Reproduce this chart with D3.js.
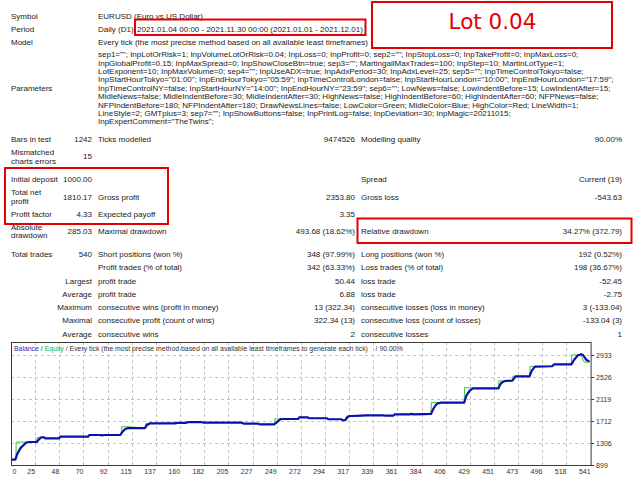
<!DOCTYPE html>
<html>
<head>
<meta charset="utf-8">
<script src="https://cdn.jsdelivr.net/npm/d3@7"></script>
<style>
    html, body { margin: 0; padding: 0; background: #fff; }
    svg { display: block; font-family: "Liberation Sans", Arial, sans-serif; }
    .caption { white-space: pre; }
</style>
</head>
<body>
<svg id="report" width="640" height="480"></svg>
<script>
// ---------- DATA ----------
const headerLabels = ["Symbol", "Period", "Model"];
const headerValues = [
    "EURUSD (Euro vs US Dollar)",
    "Daily (D1)",
    "Every tick (the most precise method based on all available least timeframes)"
];
const periodRange = "2021.01.04 00:00 - 2021.11.30 00:00 (2021.01.01 - 2021.12.01)";
const lotNote = "Lot 0.04";

const parameterLines = [
    'sep1=""; InpLotOrRisk=1; InpVolumeLotOrRisk=0.04; InpLoss=0; InpProfit=0; sep2=""; InpStopLoss=0; InpTakeProfit=0; InpMaxLoss=0;',
    'InpGlobalProfit=0.15; InpMaxSpread=0; InpShowCloseBtn=true; sep3=""; MartingailMaxTrades=100; InpStep=10; MartinLotType=1;',
    'LotExponent=10; InpMaxVolume=0; sep4=""; InpUseADX=true; InpAdxPeriod=30; InpAdxLevel=25; sep5=""; InpTimeControlTokyo=false;',
    'InpStartHourTokyo="01:00"; InpEndHourTokyo="05:59"; InpTimeControlLondon=false; InpStartHourLondon="10:00"; InpEndHourLondon="17:59";',
    'InpTimeControlNY=false; InpStartHourNY="14:00"; InpEndHourNY="23:59"; sep6=""; LowNews=false; LowIndentBefore=15; LowIndentAfter=15;',
    'MidleNews=false; MidleIndentBefore=30; MidleIndentAfter=30; HighNews=false; HighIndentBefore=60; HighIndentAfter=60; NFPNews=false;',
    'NFPIndentBefore=180; NFPIndentAfter=180; DrawNewsLines=false; LowColor=Green; MidleColor=Blue; HighColor=Red; LineWidth=1;',
    'LineStyle=2; GMTplus=3; sep7=""; InpShowButtons=false; InpPrintLog=false; InpDeviation=30; InpMagic=20211015;',
    'InpExpertComment="TheTwins";'
];

// summary rows: [label, value, label, value, label, value]
const summaryRows = [
    ["Bars in test", "1242", "Ticks modelled", "9474526", "Modelling quality", "90.00%"],
    ["Mismatched\ncharts errors", "15", "", "", "", ""],
    ["Initial deposit", "1000.00", "", "", "Spread", "Current (19)"],
    ["Total net\nprofit", "1810.17", "Gross profit", "2353.80", "Gross loss", "-543.63"],
    ["Profit factor", "4.33", "Expected payoff", "3.35", "", ""],
    ["Absolute\ndrawdown", "285.03", "Maximal drawdown", "493.68 (18.62%)", "Relative drawdown", "34.27% (372.79)"],
    ["Total trades", "540", "Short positions (won %)", "348 (97.99%)", "Long positions (won %)", "192 (0.52%)"],
    ["", "", "Profit trades (% of total)", "342 (63.33%)", "Loss trades (% of total)", "198 (36.67%)"],
    ["Largest", "", "profit trade", "50.44", "loss trade", "-52.45"],
    ["Average", "", "profit trade", "6.88", "loss trade", "-2.75"],
    ["Maximum", "", "consecutive wins (profit in money)", "13 (322.34)", "consecutive losses (loss in money)", "3 (-133.04)"],
    ["Maximal", "", "consecutive profit (count of wins)", "322.34 (13)", "consecutive loss (count of losses)", "-133.04 (3)"],
    ["Average", "", "consecutive wins", "2", "consecutive losses", "1"]
];

// balance curve: trade number / money
const balanceTrades = [0, 4, 6, 9, 14, 17, 24, 26, 28, 31, 32, 45, 46, 72, 73, 84, 85, 87, 102, 104, 106, 109, 125, 127, 130,
    153, 155, 163, 165, 178, 180, 215, 217, 230, 232, 246, 249, 252, 268, 269, 277, 278, 295, 296, 308, 310, 312, 315, 318,
    327, 331, 348, 349, 357, 358, 372, 374, 376, 385, 392, 394, 396, 398, 401, 423, 425, 428, 431, 455, 457, 459, 461,
    468, 471, 484, 486, 489, 505, 507, 523, 526, 529, 532, 534, 537, 540];
const balanceValues = [1000, 1000, 1110, 1215, 1310, 1324, 1324, 1370, 1408, 1408, 1393, 1393, 1422, 1422, 1454, 1454, 1446, 1454, 1454, 1510, 1555, 1582, 1582, 1640, 1670,
    1670, 1678, 1678, 1690, 1690, 1684, 1684, 1665, 1665, 1652, 1652, 1705, 1750, 1750, 1781, 1781, 1763, 1763, 1745, 1745, 1726, 1730, 1800, 1805,
    1811, 1815, 1815, 1811, 1811, 1836, 1836, 1845, 1836, 1840, 1842, 1930, 1995, 2035, 2051, 2051, 2180, 2270, 2317, 2317, 2400, 2435, 2452,
    2460, 2539, 2539, 2640, 2717, 2725, 2760, 2760, 2855, 2922, 2946, 2932, 2845, 2810];

// equity curve: trade number / money
const equityTrades = [0, 4.6, 4.8, 14, 17, 24, 24.4, 31, 32, 45, 46, 72, 73, 84, 85, 87, 103, 103.4, 109, 125, 126, 130,
    153, 155, 163, 165, 178, 180, 215, 217, 230, 232, 246, 246.4, 252, 268, 269, 277, 278, 295, 296, 308, 310, 312, 313, 318,
    327, 331, 348, 349, 357, 358, 372, 374, 376, 385, 392, 392.4, 401, 423, 423.4, 431, 455, 455.4, 461,
    468, 468.4, 471, 484, 484.6, 489, 505, 507, 523, 523.5, 530, 532, 535, 540];
const equityValues = [1000, 1000, 1322, 1322, 1324, 1324, 1408, 1408, 1393, 1393, 1422, 1422, 1454, 1454, 1446, 1454, 1454, 1607, 1607, 1582, 1670, 1670,
    1670, 1678, 1678, 1690, 1690, 1684, 1684, 1665, 1665, 1652, 1652, 1752, 1750, 1750, 1781, 1781, 1763, 1763, 1745, 1745, 1726, 1730, 1800, 1805,
    1811, 1815, 1815, 1811, 1811, 1836, 1836, 1845, 1836, 1840, 1842, 2053, 2051, 2051, 2335, 2317, 2317, 2455, 2452,
    2460, 2541, 2539, 2539, 2720, 2717, 2725, 2760, 2760, 2935, 2935, 2930, 2800, 2800];

const xTickLabels = ["0", "25", "48", "70", "92", "115", "137", "160", "182", "205", "227", "249", "272",
    "294", "317", "339", "361", "384", "406", "429", "451", "473", "496", "518", "541"];
const yTickValues = [899, 1306, 1712, 2119, 2526, 2933];
const chartTitle = ["Balance", " / ", "Equity", " / Every tick (the most precise method based on all available least timeframes to generate each tick)", "    / 90.00%"];

// ---------- REPORT TABLE ----------
const svg = d3.select("#report");
svg.append("rect").attr("width", 640).attr("height", 480).attr("fill", "#fff");

const textColor = "#1a1a1a";
const red = "#e30000";
const col = { label: 11, value: 92, label2: 98, value2: 355, label3: 361, value3: 622 };

function addText(x, y, str, anchor) {
    return svg.append("text")
        .attr("x", x)
        .attr("y", y)
        .attr("dy", "0.35em")
        .attr("text-anchor", anchor || "start")
        .attr("font-size", 8)
        .attr("fill", textColor)
        .text(str);
}

// label that may wrap on two lines
function addLabel(x, y, str, anchor) {
    const parts = str.split("\n");
    parts.forEach((p, i) => {
        addText(x, y + (i - (parts.length - 1) / 2) * 8.4, p, anchor);
    });
}

const headerY = [15.7, 29, 42.3];
headerLabels.forEach((l, i) => {
    addText(col.label, headerY[i], l);
    addText(col.label2, headerY[i], headerValues[i]);
});
addText(137, headerY[1], periodRange);

// parameters block
const paramTop = 54.3;
parameterLines.forEach((line, i) => addText(col.label2, paramTop + i * 8.42, line));
addText(col.label, paramTop + 4 * 8.42, "Parameters");

const rowY = [139, 156.5, 179.3, 196.8, 214, 231.2, 254.3, 267.5, 280.8, 294, 307.3, 320.6, 334];
const rightLabels = ["Largest", "Average", "Maximum", "Maximal"];
summaryRows.forEach((r, i) => {
    const y = rowY[i];
    const right = i > 7 && rightLabels.includes(r[0]);
    if (r[0]) addLabel(right ? col.value : col.label, y, r[0], right ? "end" : "start");
    if (r[1]) addText(col.value, y, r[1], "end");
    if (r[2]) addText(col.label2, y, r[2]);
    if (r[3]) addText(col.value2, y, r[3], "end");
    if (r[4]) addText(col.label3, y, r[4]);
    if (r[5]) addText(col.value3, y, r[5], "end");
});

// highlight boxes
function redBox(x0, y0, x1, y1) {
    svg.append("rect")
        .attr("x", x0).attr("y", y0)
        .attr("width", x1 - x0).attr("height", y1 - y0)
        .attr("fill", "none")
        .attr("stroke", red)
        .attr("stroke-width", 2);
}
redBox(135, 19.5, 365.5, 35);
redBox(372, 2, 612, 48);
redBox(5, 168, 168, 224);
redBox(357.5, 218.5, 631.5, 243);

svg.append("text")
    .attr("x", 492.5)
    .attr("y", 29.3)
    .attr("text-anchor", "middle")
    .attr("font-family", "DejaVu Sans, sans-serif")
    .attr("font-size", 21.5)
    .attr("fill", red)
    .text(lotNote);

// ---------- BALANCE / EQUITY GRAPH ----------
const plot = { left: 11, right: 590.6, top: 342, bottom: 465 };

const x = d3.scaleLinear()
    .domain([0, 541])
    .range([plot.left, plot.right]);

const xGrid = d3.scalePoint()
    .domain(xTickLabels)
    .range([plot.left, plot.right]);

const y = d3.scaleLinear()
    .domain([899, 2933])
    .range([plot.bottom, plot.bottom - 110]);

const g = svg.append("g");

// dashed grid
g.selectAll(".vgrid")
    .data(xTickLabels.slice(1, -1))
    .enter()
    .append("line")
    .attr("x1", (d) => Math.round(xGrid(d)) + 0.5)
    .attr("x2", (d) => Math.round(xGrid(d)) + 0.5)
    .attr("y1", plot.top)
    .attr("y2", plot.bottom)
    .attr("stroke", "#c4c4c4")
    .attr("stroke-dasharray", "3,3");

g.selectAll(".hgrid")
    .data(yTickValues.slice(1))
    .enter()
    .append("line")
    .attr("x1", plot.left)
    .attr("x2", plot.right)
    .attr("y1", (d) => Math.round(y(d)) + 0.5)
    .attr("y2", (d) => Math.round(y(d)) + 0.5)
    .attr("stroke", "#c4c4c4")
    .attr("stroke-dasharray", "3,3");

// frame
g.append("rect")
    .attr("x", plot.left + 0.5)
    .attr("y", plot.top + 0.5)
    .attr("width", plot.right - plot.left)
    .attr("height", plot.bottom - plot.top)
    .attr("fill", "none")
    .attr("stroke", "#3a3a3a");

// x tick labels end at their grid line (first one kept inside the frame)
g.selectAll(".xlab")
    .data(xTickLabels)
    .enter()
    .append("text")
    .attr("x", (d, i) => (i === 0 ? plot.left + 1.5 : xGrid(d)))
    .attr("y", 472)
    .attr("dy", "0.35em")
    .attr("text-anchor", (d, i) => (i === 0 ? "start" : "end"))
    .attr("font-size", 7)
    .attr("fill", "#333")
    .text((d) => d);

// y ticks on the right
const yAxis = g.append("g")
    .attr("transform", `translate(${plot.right + 0.5},0)`)
    .call(d3.axisRight(y).tickValues(yTickValues).tickSize(3).tickPadding(2).tickFormat(d3.format("d")));
yAxis.select(".domain").remove();
yAxis.selectAll("line").attr("stroke", "#3a3a3a");
yAxis.selectAll("text")
    .attr("font-family", "Liberation Sans, Arial, sans-serif")
    .attr("font-size", 7)
    .attr("fill", "#333");

const equity = equityTrades.map((t, i) => [t, equityValues[i]]);
const balance = balanceTrades.map((t, i) => [t, balanceValues[i]]);

const line = d3.line()
    .x((d) => x(d[0]))
    .y((d) => y(d[1]));

g.append("path")
    .datum(equity)
    .attr("d", line)
    .attr("fill", "none")
    .attr("stroke", "#3cc43c")
    .attr("stroke-width", 1);

g.append("path")
    .datum(balance)
    .attr("d", line)
    .attr("fill", "none")
    .attr("stroke", "#0a10b0")
    .attr("stroke-width", 2.2)
    .attr("stroke-linejoin", "round");

// graph caption
const title = g.append("text")
    .attr("class", "caption")
    .attr("x", 14)
    .attr("y", 349)
    .attr("dy", "0.35em")
    .attr("font-size", 6.9)
    .attr("fill", "#333");
const titleColors = ["#2c2cc8", "#333", "#28a828", "#333", "#333"];
chartTitle.forEach((s, i) => {
    title.append("tspan").attr("fill", titleColors[i]).text(s);
});
</script>
</body>
</html>
